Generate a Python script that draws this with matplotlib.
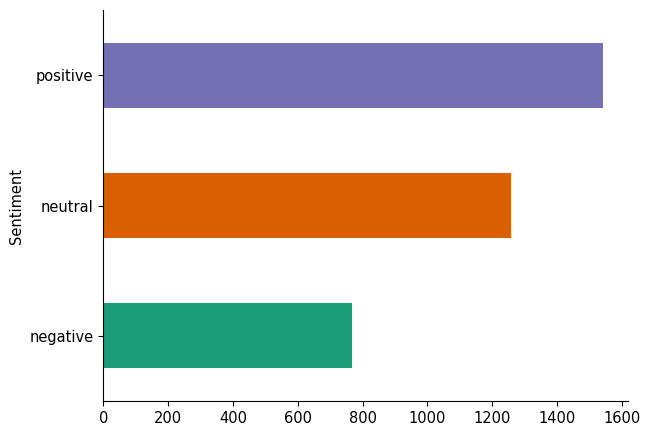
import matplotlib
matplotlib.use("Agg")
import matplotlib.pyplot as plt

categories = ["negative", "neutral", "positive"]
counts = [768, 1259, 1542]
colors = ["#1b9e77", "#d95f02", "#7570b3"]
x_ticks = [0, 200, 400, 600, 800, 1000, 1200, 1400, 1600]

plt.rcParams["font.size"] = 10.5

fig = plt.figure(figsize=(6.53, 4.37), dpi=100)
ax = fig.add_axes([103.3 / 653, 36 / 437, (628 - 103.3) / 653, (401 - 10) / 437])

positions = list(range(len(categories)))
ax.barh(positions, counts, height=0.5, color=colors)
ax.set_yticks(positions)
ax.set_yticklabels(categories)
ax.set_ylim(-0.5, len(categories) - 0.5)
ax.set_xlim(0, max(counts) * 1.05)
ax.set_xticks(x_ticks)
ax.set_ylabel("Sentiment")
ax.spines["top"].set_visible(False)
ax.spines["right"].set_visible(False)

fig.savefig("out.png", dpi=100)
